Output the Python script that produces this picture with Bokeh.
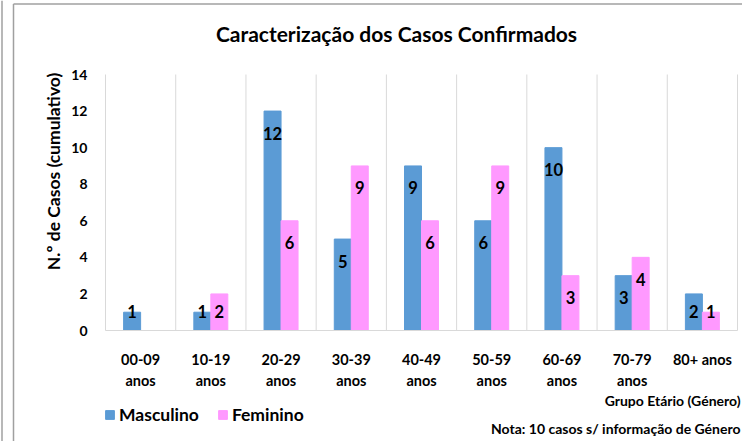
from bokeh.plotting import figure
from bokeh.models import (Range1d, FixedTicker, Label, Legend, LegendItem,
                          ColumnDataSource, LinearAxis)
from bokeh.core.properties import value
from bokeh.embed import file_html
from bokeh.resources import INLINE
import numpy as np

# ---- data ----
categories = ["00-09 anos", "10-19 anos", "20-29 anos", "30-39 anos", "40-49 anos",
              "50-59 anos", "60-69 anos", "70-79 anos", "80+ anos"]
tick_line1 = ["00-09", "10-19", "20-29", "30-39", "40-49", "50-59", "60-69", "70-79", "80+ anos"]
tick_line2 = ["anos", "anos", "anos", "anos", "anos", "anos", "anos", "anos", ""]
masculino = [1, 1, 12, 5, 9, 6, 10, 3, 2]
feminino = [0, 2, 6, 9, 6, 9, 3, 4, 1]
y_ticks = [0, 2, 4, 6, 8, 10, 12, 14]
series_names = ["Masculino", "Feminino"]
title_text = "Caracterização dos Casos Confirmados"
y_title = "N.º de Casos (cumulativo)"
x_title = "Grupo Etário (Género)"
note_text = "Nota: 10 casos s/ informação de Género"

BLUE = "#5B9BD5"
PINK = "#FF99FF"
GRID = "#D9D9D9"
BORDER = "#A0A0A0"
FONT = "Lato"

W, H = 742, 441
FL, FR, FT, FB = 105, 737, 74, 330   # plot area edges in canvas px
YMAX = 14
N = len(categories)
PXU = (FB - FT) / YMAX                # px per y unit
BAND = (FR - FL) / N                  # px per category


def dx(cx):  # canvas px -> x data
    return (cx - FL) / BAND


def dy(cy):  # canvas px -> y data
    return (FB - cy) / PXU


# the frame covers the whole canvas; axes are drawn at fixed locations
p = figure(width=W, height=H,
           x_range=Range1d(dx(0), dx(W)), y_range=Range1d(dy(H), dy(0)),
           output_backend="svg", toolbar_location=None,
           min_border_left=0, min_border_right=0, min_border_top=0, min_border_bottom=0,
           x_axis_type=None, y_axis_type=None)
p.outline_line_color = None
p.xgrid.visible = False
p.ygrid.visible = False

# chart-area borders
p.segment(x0=[dx(1.5), dx(13), dx(13)], y0=[dy(0), dy(3.5), dy(3.5)],
          x1=[dx(1.5), dx(13), dx(W)], y1=[dy(H), dy(H), dy(3.5)],
          line_color=BORDER, line_width=1.5)

idx = np.arange(N)
centers = idx + 0.5
bw = 0.242

# vertical separators between categories
p.segment(x0=np.arange(N + 1), y0=0, x1=np.arange(N + 1), y1=YMAX,
          line_color=GRID, line_width=1)

src = ColumnDataSource(dict(xm=centers - bw / 2, xf=centers + bw / 2,
                            m=masculino, f=feminino))
rm = p.vbar(x="xm", top="m", width=bw, source=src, fill_color=BLUE, line_color=BLUE)
rf = p.vbar(x="xf", top="f", width=bw, source=src, fill_color=PINK, line_color=PINK)


def label_src(xs, vals):
    keep = [i for i, v in enumerate(vals) if v > 0]
    return ColumnDataSource(dict(
        x=[xs[i] for i in keep],
        y=[max(vals[i] - 22 / PXU, 19 / PXU) for i in keep],
        t=[str(vals[i]) for i in keep]))


for xs, vals in ((centers - bw / 2, masculino), (centers + bw / 2, feminino)):
    p.text(x="x", y="y", text="t", source=label_src(list(xs), vals),
           text_align="center", text_baseline="middle", text_font=value(FONT),
           text_font_style="bold", text_font_size="16.5px", text_color="black")

# x axis: two label lines, drawn at y = 0
for lines, st, line_col in ((tick_line1, 14, GRID), (tick_line2, 35, None)):
    ax = LinearAxis(fixed_location=0, bounds=(0, N),
                    ticker=FixedTicker(ticks=list(centers)),
                    major_label_overrides={float(c): t for c, t in zip(centers, lines)})
    ax.axis_line_color = line_col
    ax.major_tick_line_color = None
    ax.minor_tick_line_color = None
    ax.major_label_text_font = FONT
    ax.major_label_text_font_style = "bold"
    ax.major_label_text_font_size = "14.5px"
    ax.major_label_text_color = "black"
    ax.major_label_standoff = st
    p.add_layout(ax, "below")

# y axis at x = 0
yax = LinearAxis(fixed_location=0, bounds=(0, YMAX), ticker=FixedTicker(ticks=y_ticks))
yax.axis_line_color = None
yax.major_tick_line_color = None
yax.minor_tick_line_color = None
yax.major_label_text_font = FONT
yax.major_label_text_font_style = "bold"
yax.major_label_text_font_size = "14px"
yax.major_label_text_color = "black"
yax.major_label_standoff = 12
p.add_layout(yax, "left")


def txt(cx, cy, t, size, align="center", angle=0.0):
    return Label(x=dx(cx), y=dy(cy), x_units="data", y_units="data", text=t, angle=angle,
                 text_align=align, text_baseline="middle", text_font=FONT,
                 text_font_style="bold", text_font_size=size, text_color="black")


p.add_layout(txt(396, 33, title_text, "21px"))
p.add_layout(txt(53, 171, y_title, "17.5px", angle=np.pi / 2))
p.add_layout(txt(740, 400, x_title, "14px", "right"))
p.add_layout(txt(740, 428, note_text, "14px", "right"))

legend = Legend(items=[LegendItem(label=series_names[0], renderers=[rm]),
                       LegendItem(label=series_names[1], renderers=[rf])],
                location=(104, H - 425), orientation="horizontal", padding=0, margin=0,
                spacing=18, label_standoff=4, glyph_width=11, glyph_height=11,
                label_height=19, border_line_color=None, background_fill_alpha=0,
                label_text_font=FONT, label_text_font_style="bold",
                label_text_font_size="17.5px", label_text_color="black")
p.add_layout(legend, "center")

open("out.html", "w").write(file_html(p, INLINE))
